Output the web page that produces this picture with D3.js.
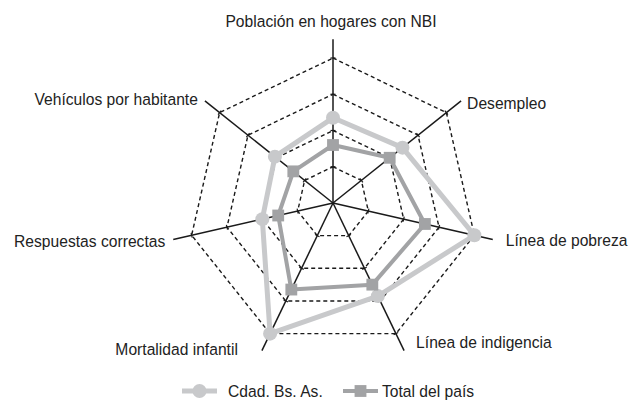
<!DOCTYPE html>
<html>
<head>
<meta charset="utf-8">
<script src="https://cdn.jsdelivr.net/npm/d3@7"></script>
<style>
  body { margin: 0; background: #fff; }
  svg text { font-family: "Liberation Sans", Arial, sans-serif; font-size: 17px; fill: #222; }
</style>
</head>
<body>
<div id="chart"></div>
<script>
// axes, clockwise from the top
var axisNames = ["Población en hogares con NBI", "Desempleo", "Línea de pobreza",
                 "Línea de indigencia", "Mortalidad infantil", "Respuestas correctas",
                 "Vehículos por habitante"];
var cdadValues  = [2.35, 2.45, 4.0, 2.85, 4.0, 2.0, 2.05];
var totalValues = [1.6, 2.0, 2.6, 2.5, 2.65, 1.55, 1.4];
var ringLevels  = [1, 2, 3, 4];
var seriesNames = ["Cdad. Bs. As.", "Total del país"];

// layout
var W = 629, H = 403;
var cx = 333, cy = 203;
var axisMax = 4.52;
var squeeze = 0.92;  // condensed look of the original type
// label nudges from the axis end [dx, dy]
var labelNudge = [[-2, -18], [6, 2], [13, 1], [12, -9], [-24, -2], [-8, 2], [-7, -2]];

var svg = d3.select("#chart").append("svg")
    .attr("width", W)
    .attr("height", H);

var g = svg.append("g").attr("transform", "translate(" + cx + "," + cy + ")");

var r = d3.scaleLinear().domain([0, 4]).range([0, 145]);
var angle = d3.scaleLinear().domain([0, axisNames.length]).range([0, 2 * Math.PI]);

function px(i, v) { return r(v) * Math.sin(angle(i)); }
function py(i, v) { return -r(v) * Math.cos(angle(i)); }

// dashed rings
var ringLine = d3.lineRadial()
    .angle(function(d, i) { return angle(i); })
    .radius(function(d) { return r(d); })
    .curve(d3.curveLinearClosed);

g.selectAll(".ring")
    .data(ringLevels)
  .enter().append("path")
    .attr("class", "ring")
    .attr("d", function(lv) { return ringLine(axisNames.map(function() { return lv; })); })
    .attr("fill", "none")
    .attr("stroke", "#1a1a1a")
    .attr("stroke-width", 1.4)
    .attr("stroke-dasharray", "4,3");

// spokes
g.selectAll(".spoke")
    .data(axisNames)
  .enter().append("line")
    .attr("class", "spoke")
    .attr("x1", 0).attr("y1", 0)
    .attr("x2", function(d, i) { return px(i, axisMax); })
    .attr("y2", function(d, i) { return py(i, axisMax); })
    .attr("stroke", "#1a1a1a")
    .attr("stroke-width", 1.5);

// small ticks where rings cross the spokes
axisNames.forEach(function(name, i) {
  var a = angle(i);
  g.selectAll(null)
      .data(ringLevels)
    .enter().append("line")
      .attr("x1", function(lv) { return px(i, lv) - 2.5 * Math.cos(a); })
      .attr("y1", function(lv) { return py(i, lv) - 2.5 * Math.sin(a); })
      .attr("x2", function(lv) { return px(i, lv) + 2.5 * Math.cos(a); })
      .attr("y2", function(lv) { return py(i, lv) + 2.5 * Math.sin(a); })
      .attr("stroke", "#1a1a1a")
      .attr("stroke-width", 1.2);
});

// axis labels
g.selectAll(".axis-label")
    .data(axisNames)
  .enter().append("text")
    .attr("class", "axis-label")
    .attr("transform", function(d, i) {
      return "translate(" + (px(i, axisMax) + labelNudge[i][0]) + "," +
             (py(i, axisMax) + labelNudge[i][1]) + ") scale(" + squeeze + ",1)";
    })
    .attr("dy", "0.35em")
    .style("text-anchor", function(d, i) {
      var s = Math.sin(angle(i));
      return s > 0.1 ? "start" : (s < -0.1 ? "end" : "middle");
    })
    .text(function(d) { return d; });

// series
var series = [
  { name: seriesNames[0], values: cdadValues, color: "#c8c9cb", width: 5, shape: "circle" },
  { name: seriesNames[1], values: totalValues, color: "#a2a3a5", width: 4, shape: "square" }
];

var seriesLine = d3.lineRadial()
    .angle(function(d, i) { return angle(i); })
    .radius(function(d) { return r(d); })
    .curve(d3.curveLinearClosed);

var squareSym = d3.symbol().type(d3.symbolSquare).size(140);

series.forEach(function(s) {
  g.append("path")
      .attr("d", seriesLine(s.values))
      .attr("fill", "none")
      .attr("stroke", s.color)
      .attr("stroke-width", s.width)
      .attr("stroke-linejoin", "round");

  if (s.shape === "circle") {
    g.selectAll(null)
        .data(s.values)
      .enter().append("circle")
        .attr("cx", function(d, i) { return px(i, d); })
        .attr("cy", function(d, i) { return py(i, d); })
        .attr("r", 7)
        .attr("fill", s.color);
  } else {
    g.selectAll(null)
        .data(s.values)
      .enter().append("path")
        .attr("d", squareSym)
        .attr("transform", function(d, i) { return "translate(" + px(i, d) + "," + py(i, d) + ")"; })
        .attr("fill", s.color);
  }
});

// legend
var legendY = 391;
var legendX = [182, 343];
var legend = svg.selectAll(".legend")
    .data(series)
  .enter().append("g")
    .attr("class", "legend")
    .attr("transform", function(d, i) { return "translate(" + legendX[i] + "," + legendY + ")"; });

legend.append("line")
    .attr("x1", 0).attr("x2", 35)
    .attr("y1", 0).attr("y2", 0)
    .attr("stroke", function(d) { return d.color; })
    .attr("stroke-width", function(d) { return d.width; });

legend.each(function(d) {
  var el = d3.select(this);
  if (d.shape === "circle") {
    el.append("circle").attr("cx", 17.5).attr("cy", 0).attr("r", 7).attr("fill", d.color);
  } else {
    el.append("path").attr("d", squareSym).attr("transform", "translate(17.5,0)").attr("fill", d.color);
  }
});

legend.append("text")
    .attr("transform", function(d, i) { return "translate(" + (i === 0 ? 46 : 39) + ",0) scale(" + squeeze + ",1)"; })
    .attr("dy", "0.35em")
    .text(function(d) { return d.name; });
</script>
</body>
</html>
